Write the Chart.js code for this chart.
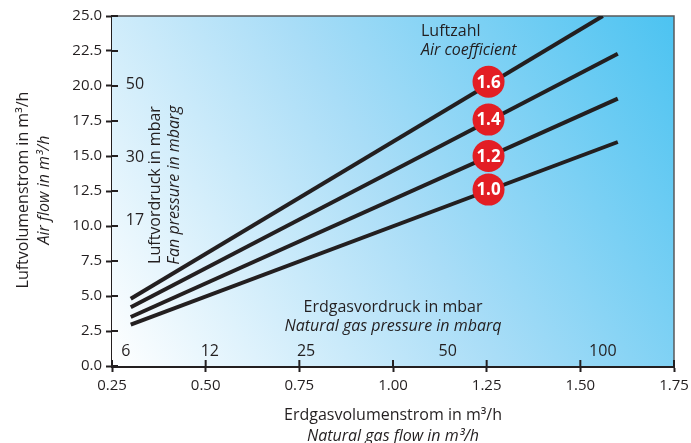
<!DOCTYPE html>
<html>
<head>
<meta charset="utf-8">
<script src="https://cdn.jsdelivr.net/npm/chart.js@4/dist/chart.umd.min.js"></script>
<style>
html,body{margin:0;padding:0;background:#fff;}
#wrap{width:691px;height:443px;position:relative;}
</style>
</head>
<body>
<div id="wrap"><canvas id="c" width="691" height="443"></canvas></div>
<script>
// ---- data ----
const airCoefficients = ['1.0', '1.2', '1.4', '1.6'];
const gasFlowStart = [0.30, 0.30, 0.30, 0.30];
const gasFlowEnd   = [1.60, 1.60, 1.60, 1.56];
const airFlowStart = [2.95, 3.5, 4.2, 4.8];
const airFlowEnd   = [16.0, 19.1, 22.3, 25.0];
const badgeGasFlow = [1.255, 1.255, 1.255, 1.255];
const badgeAirFlow = [12.6, 15.0, 17.6, 20.3];
const gasPressureLabels = ['6', '12', '25', '50', '100'];
const gasPressureAt     = [0.287, 0.511, 0.768, 1.146, 1.560];
const fanPressureLabels = ['50', '30', '17'];
const fanPressureAt     = [20.1, 14.9, 10.4];
const xTitle = ['Erdgasvolumenstrom in m³/h', 'Natural gas flow in m³/h'];
const yTitle = ['Luftvolumenstrom in m³/h', 'Air flow in m³/h'];

const FONT = "'Open Sans', 'Noto Sans', sans-serif";
const INK = '#231f20';
const TS = 16;

const datasets = airCoefficients.map((c, i) => ({
  label: c,
  data: [{x: gasFlowStart[i], y: airFlowStart[i]}, {x: gasFlowEnd[i], y: airFlowEnd[i]}],
  showLine: true,
  borderColor: INK,
  borderWidth: 4,
  pointRadius: 0,
  borderCapStyle: 'butt'
}));

function txt(ctx, s, x, y, size, style, align, color) {
  ctx.save();
  ctx.font = (style || '') + ' ' + size + 'px ' + FONT;
  ctx.fillStyle = color || INK;
  ctx.textAlign = align || 'center';
  ctx.textBaseline = 'middle';
  ctx.fillText(s, x, y);
  ctx.restore();
}

const decor = {
  id: 'decor',
  beforeDatasetsDraw(chart) {
    const {ctx, chartArea: a} = chart;
    ctx.save();
    const g = ctx.createLinearGradient(a.left, a.bottom, a.right, a.top);
    g.addColorStop(0, '#ffffff');
    g.addColorStop(0.5, '#a9ddf7');
    g.addColorStop(1, '#4cc3f1');
    ctx.fillStyle = g;
    ctx.fillRect(a.left, a.top, a.right - a.left, a.bottom - a.top);
    // top and right frame
    ctx.strokeStyle = '#58595b';
    ctx.lineWidth = 1.5;
    ctx.beginPath();
    ctx.moveTo(a.left, a.top); ctx.lineTo(a.right, a.top); ctx.lineTo(a.right, a.bottom);
    ctx.stroke();
    ctx.restore();
  },
  afterDatasetsDraw(chart) {
    const {ctx, chartArea: a, scales: {x, y}} = chart;
    // inner halves of tick marks
    ctx.save();
    ctx.strokeStyle = INK; ctx.lineWidth = 2;
    x.ticks.forEach(t => { const px = x.getPixelForValue(t.value); ctx.beginPath(); ctx.moveTo(px, a.bottom); ctx.lineTo(px, a.bottom - 6); ctx.stroke(); });
    y.ticks.forEach(t => { const py = y.getPixelForValue(t.value); ctx.beginPath(); ctx.moveTo(a.left, py); ctx.lineTo(a.left + 6, py); ctx.stroke(); });
    ctx.restore();
    // badges
    airCoefficients.forEach((c, i) => {
      const px = x.getPixelForValue(badgeGasFlow[i]), py = y.getPixelForValue(badgeAirFlow[i]);
      ctx.save();
      ctx.fillStyle = '#e31e24';
      ctx.beginPath(); ctx.arc(px, py, 16, 0, Math.PI * 2); ctx.fill();
      ctx.restore();
      txt(ctx, c, px, py + 1, 17, 'bold', 'center', '#ffffff');
    });
    // legend of air coefficient
    txt(ctx, 'Luftzahl', 421, 31, TS, '', 'left');
    txt(ctx, 'Air coefficient', 421, 50, TS, 'italic', 'left');
    // gas pressure scale
    gasPressureLabels.forEach((s, i) => txt(ctx, s, x.getPixelForValue(gasPressureAt[i]), 351, TS, ''));
    txt(ctx, 'Erdgasvordruck in mbar', 393, 307, TS, '');
    txt(ctx, 'Natural gas pressure in mbarq', 393, 326, TS, 'italic');
    // fan pressure scale
    fanPressureLabels.forEach((s, i) => txt(ctx, s, 135, y.getPixelForValue(fanPressureAt[i]), TS, ''));
    ctx.save();
    ctx.translate(155, 185); ctx.rotate(-Math.PI / 2);
    txt(ctx, 'Luftvordruck in mbar', 0, 0, TS, '');
    txt(ctx, 'Fan pressure in mbarg', 0, 19, TS, 'italic');
    ctx.restore();
    // axis titles
    txt(ctx, xTitle[0], 393, 415, TS, '');
    txt(ctx, xTitle[1], 393, 436, TS, 'italic');
    ctx.save();
    ctx.translate(23, 190); ctx.rotate(-Math.PI / 2);
    txt(ctx, yTitle[0], 0, 0, TS, '');
    txt(ctx, yTitle[1], 0, 21, TS, 'italic');
    ctx.restore();
  }
};

new Chart(document.getElementById('c'), {
  type: 'scatter',
  data: {datasets},
  options: {
    responsive: false,
    animation: false,
    layout: {padding: {top: 16, right: 17, left: 0, bottom: 0}},
    plugins: {legend: {display: false}, tooltip: {enabled: false}},
    scales: {
      x: {
        type: 'linear', min: 0.25, max: 1.75,
        afterFit(s) { s.height = 77; s.paddingLeft = 0; s.paddingRight = 0; },
        grid: {drawOnChartArea: false, drawTicks: true, tickLength: 6, tickWidth: 2, color: INK},
        border: {display: true, color: INK, width: 3},
        ticks: {stepSize: 0.25, color: INK, font: {family: FONT, size: 15}, padding: 5, maxRotation: 0,
                callback: v => Number(v).toFixed(2)}
      },
      y: {
        type: 'linear', min: 0, max: 25,
        afterFit(s) { s.width = 112; s.paddingTop = 0; s.paddingBottom = 0; },
        grid: {drawOnChartArea: false, drawTicks: true, tickLength: 6, tickWidth: 2, color: INK},
        border: {display: true, color: INK, width: 3},
        ticks: {stepSize: 2.5, color: INK, font: {family: FONT, size: 15}, padding: 4,
                callback: v => Number(v).toFixed(1)}
      }
    }
  },
  plugins: [decor]
});
</script>
</body>
</html>
